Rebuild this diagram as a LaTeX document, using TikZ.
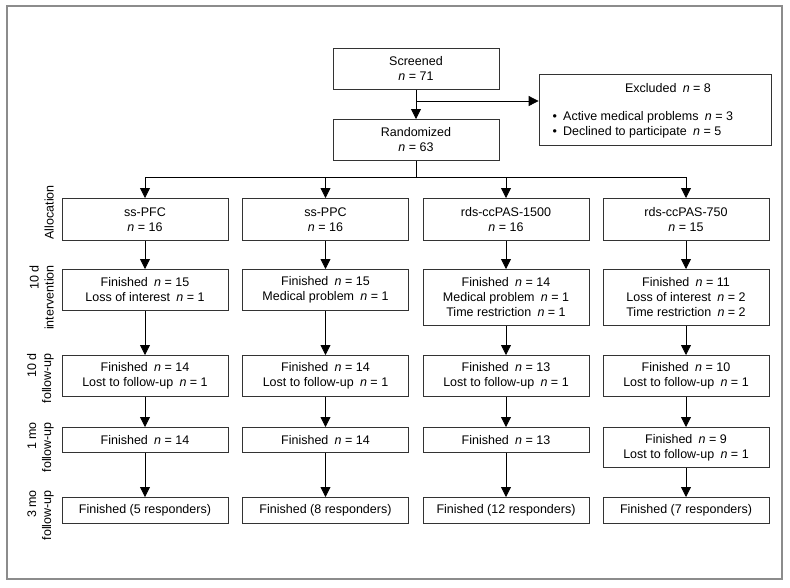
\documentclass[tikz,border=0pt]{standalone}
\usepackage{fontspec}
\setmainfont{Liberation Sans}
\usetikzlibrary{arrows.meta,positioning}
\newcommand{\nis}[1]{\textit{n} = #1}

\begin{document}
\begin{tikzpicture}[x=1pt,y=-1pt,
  font=\fontsize{12.5}{15}\selectfont,
  box/.style={draw=black!80,line width=0.8pt,minimum width=166pt,align=center,inner sep=2pt,anchor=north},
  arr/.style={-{Triangle[length=10pt,width=10pt]},line width=0.8pt},
  phase/.style={rotate=90,anchor=south east,align=right,inner sep=0pt}]
  \useasboundingbox (0,0) rectangle (790,587);
  \draw[black!45,line width=1.3pt] (7,6) rectangle (782,579);

  % enrolment
  \node[box,minimum height=41pt] (scr) at (416,48) {Screened\\\nis{71}};
  \node[box,minimum height=41pt] (rnd) at (416,119) {Randomized\\\nis{63}};
  \node[draw=black!80,line width=0.8pt,minimum width=232pt,minimum height=71pt] (excl) at (655,109.5) {};
  \node (exh) at (668,88) {Excluded\enspace\nis{8}};
  \node[anchor=west] (ex1) at (549,117) {\textbullet\enspace Active medical problems\enspace\nis{3}};
  \node[anchor=west] (ex2) at (549,132) {\textbullet\enspace Declined to participate\enspace\nis{5}};

  % phases
  \node[phase] (lalloc) at (54,185) {Allocation};
  \node[phase] (linter) at (54,265) {10 d\\intervention};
  \node[phase] (lfu10) at (54,353) {10 d\\follow-up};
  \node[phase] (lfu1) at (54,422) {1 mo\\follow-up};
  \node[phase] (lfu3) at (54,490) {3 mo\\follow-up};

  % allocation
  \node[box,minimum height=42pt] (a1) at (145,198) {ss-PFC\\\nis{16}};
  \node[box,minimum height=42pt] (a2) at (325.5,198) {ss-PPC\\\nis{16}};
  \node[box,minimum height=42pt] (a3) at (506,198) {rds-ccPAS-1500\\\nis{16}};
  \node[box,minimum height=42pt] (a4) at (686,198) {rds-ccPAS-750\\\nis{15}};

  % intervention
  \node[box,minimum height=41pt] (i1) at (145,269) {Finished\enspace\nis{15}\\Loss of interest\enspace\nis{1}};
  \node[box,minimum height=41pt] (i2) at (325.5,269) {Finished\enspace\nis{15}\\Medical problem\enspace\nis{1}};
  \node[box,minimum height=56pt] (i3) at (506,269) {Finished\enspace\nis{14}\\Medical problem\enspace\nis{1}\\Time restriction\enspace\nis{1}};
  \node[box,minimum height=56pt] (i4) at (686,269) {Finished\enspace\nis{11}\\Loss of interest\enspace\nis{2}\\Time restriction\enspace\nis{2}};

  % 10 d follow-up
  \node[box,minimum height=41pt] (f1) at (145,355) {Finished\enspace\nis{14}\\Lost to follow-up\enspace\nis{1}};
  \node[box,minimum height=41pt] (f2) at (325.5,355) {Finished\enspace\nis{14}\\Lost to follow-up\enspace\nis{1}};
  \node[box,minimum height=41pt] (f3) at (506,355) {Finished\enspace\nis{13}\\Lost to follow-up\enspace\nis{1}};
  \node[box,minimum height=41pt] (f4) at (686,355) {Finished\enspace\nis{10}\\Lost to follow-up\enspace\nis{1}};

  % 1 mo follow-up
  \node[box,minimum height=25pt] (m1) at (145,427) {Finished\enspace\nis{14}};
  \node[box,minimum height=25pt] (m2) at (325.5,427) {Finished\enspace\nis{14}};
  \node[box,minimum height=25pt] (m3) at (506,427) {Finished\enspace\nis{13}};
  \node[box,minimum height=40pt] (m4) at (686,427) {Finished\enspace\nis{9}\\Lost to follow-up\enspace\nis{1}};

  % 3 mo follow-up
  \node[box,minimum height=26pt] (t1) at (145,497) {Finished (5 responders)};
  \node[box,minimum height=26pt] (t2) at (325.5,497) {Finished (8 responders)};
  \node[box,minimum height=26pt] (t3) at (506,497) {Finished (12 responders)};
  \node[box,minimum height=26pt] (t4) at (686,497) {Finished (7 responders)};

  % connectors
  \draw[arr] (scr.south) -- (rnd.north);
  \coordinate (split) at (416,101);
  \draw[arr] (split) -- (split -| excl.west);
  \coordinate (bus) at (416,177);
  \draw[line width=0.8pt] (rnd.south) -- (bus);
  \draw[line width=0.8pt] (a1.north |- bus) -- (a4.north |- bus);
  \foreach \c in {1,...,4} {
    \draw[arr] (a\c.north |- bus) -- (a\c.north);
    \draw[arr] (a\c.south) -- (i\c.north);
    \draw[arr] (i\c.south) -- (f\c.north);
    \draw[arr] (f\c.south) -- (m\c.north);
    \draw[arr] (m\c.south) -- (t\c.north);
  }
\end{tikzpicture}
\end{document}
